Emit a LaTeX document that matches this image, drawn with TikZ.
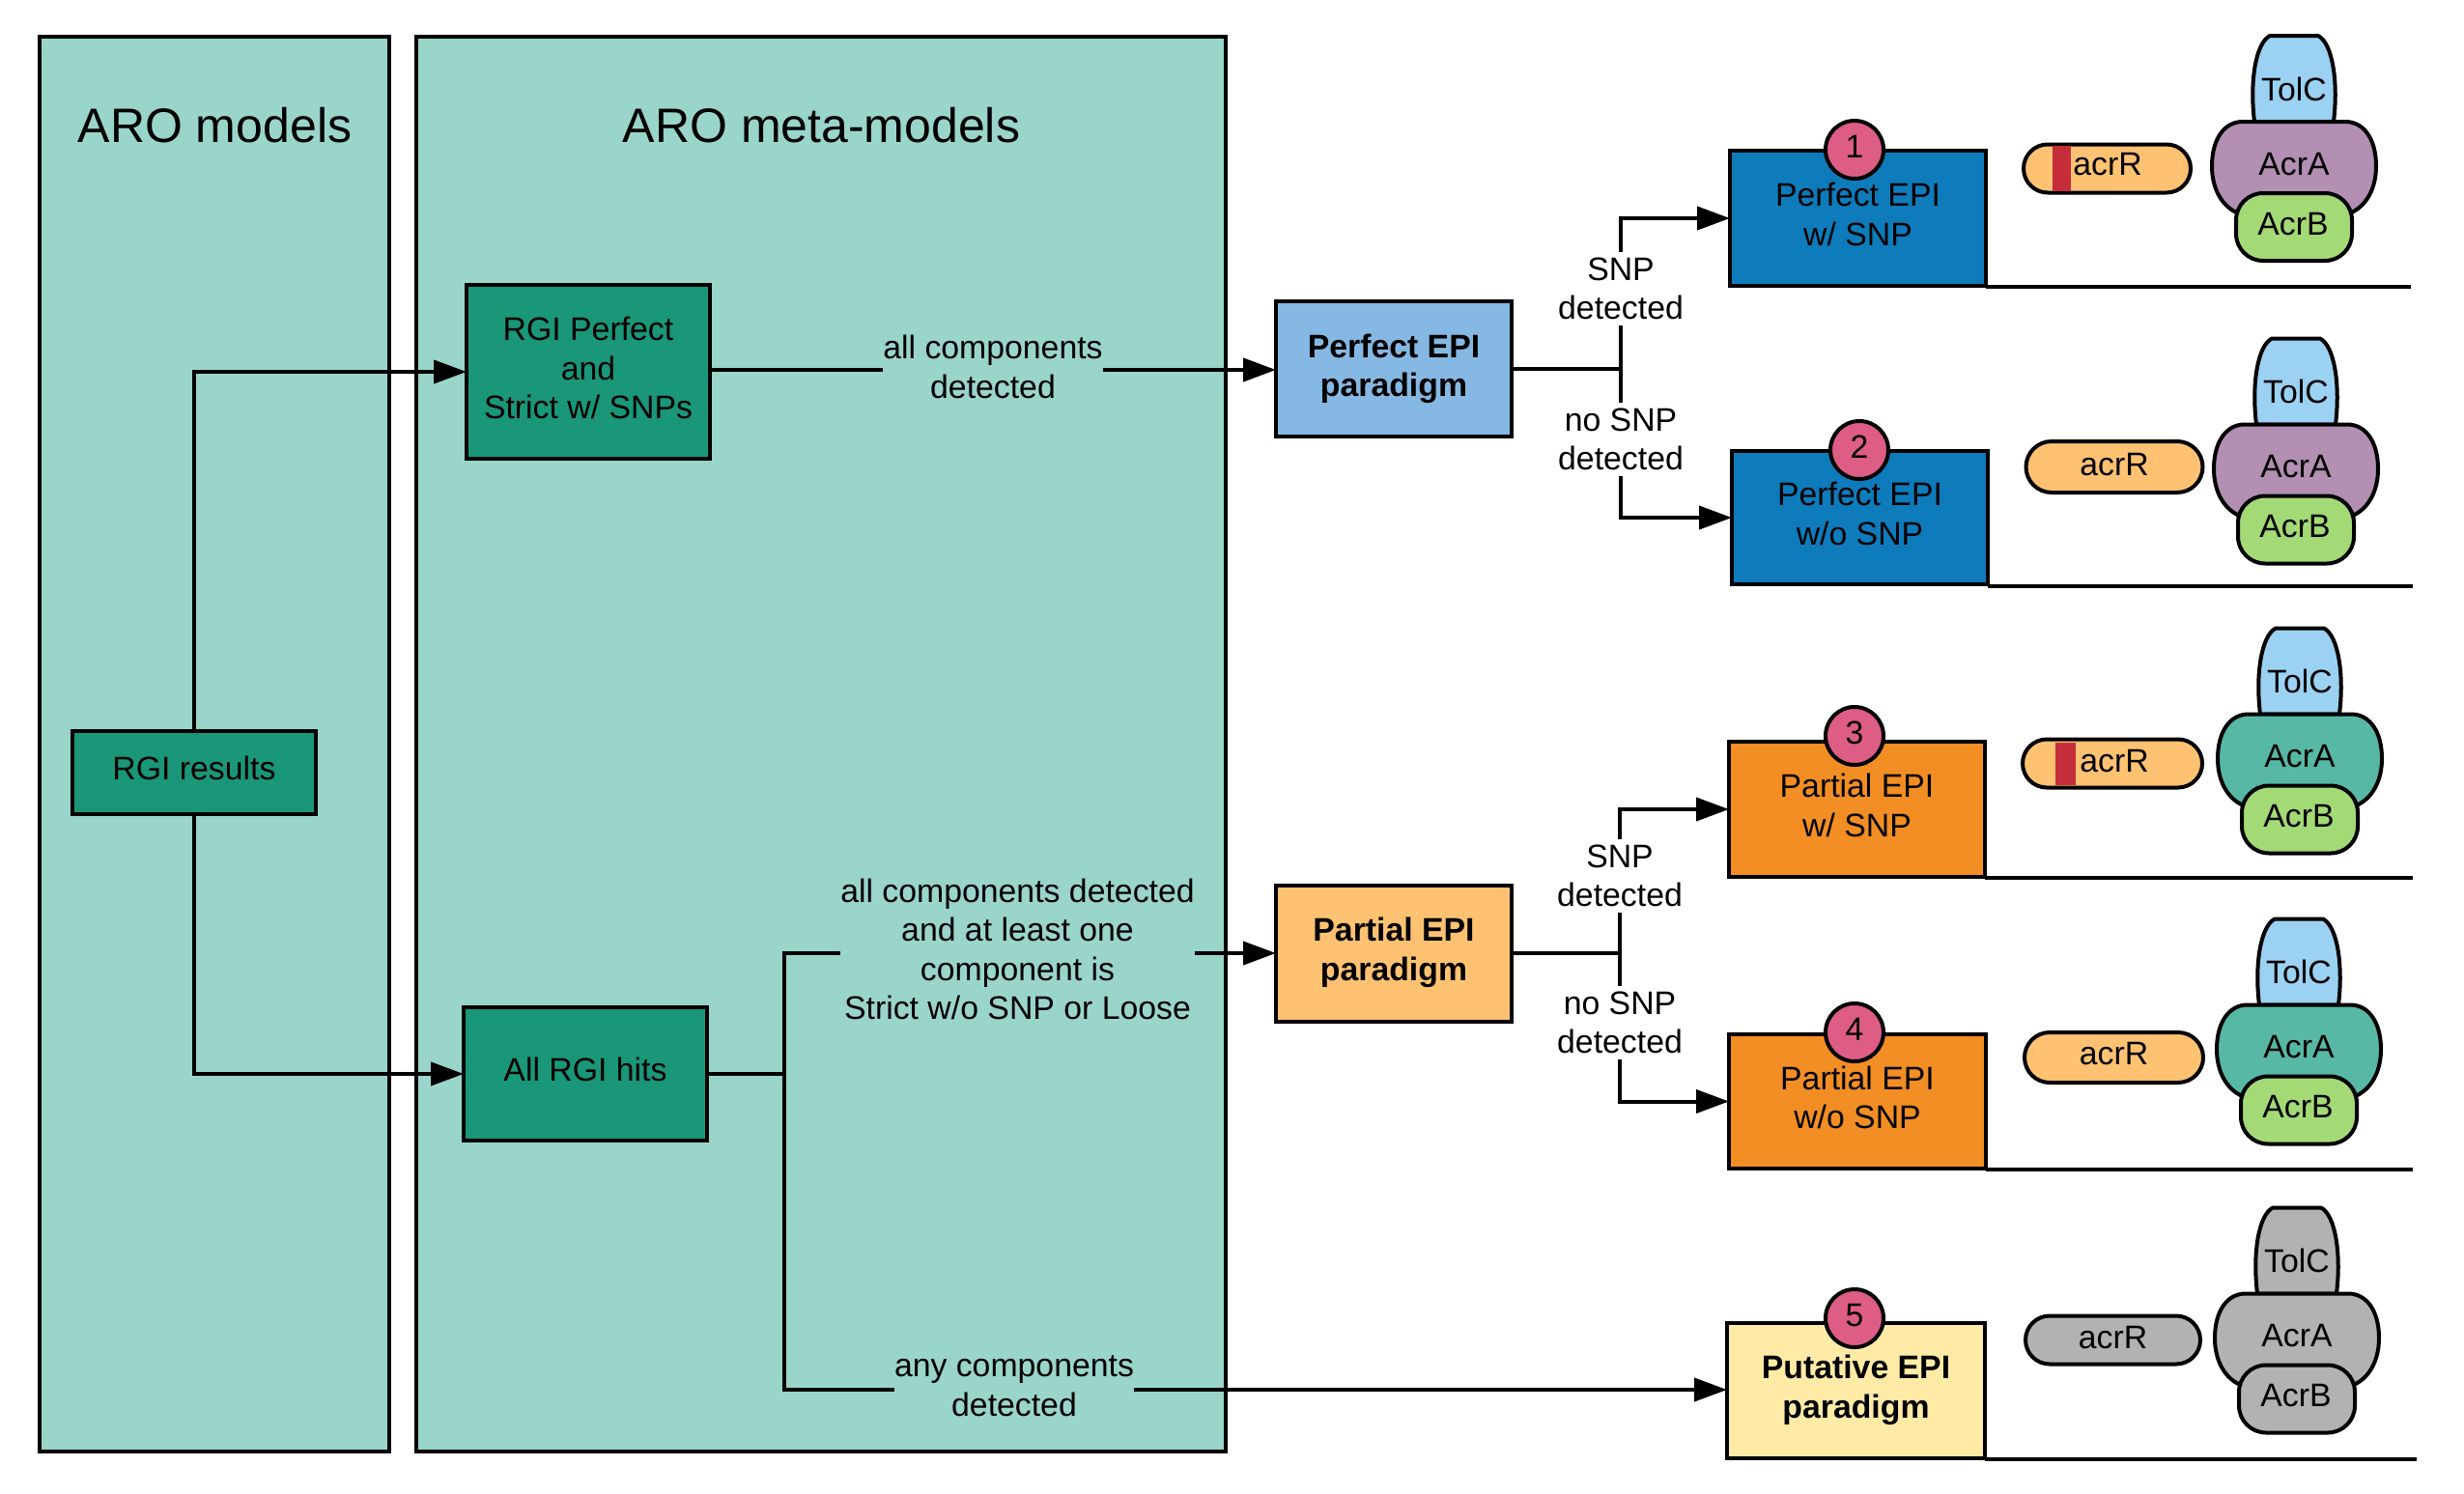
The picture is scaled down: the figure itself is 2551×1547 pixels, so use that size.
\documentclass[tikz,border=0pt]{standalone}
\usepackage{fontspec}
\setmainfont{Liberation Sans}
\usetikzlibrary{arrows.meta,shapes.misc}
\definecolor{panel}{HTML}{9AD5CA}
\definecolor{dgreen}{HTML}{1A9678}
\definecolor{sblue}{HTML}{0E7BBB}
\definecolor{lblue}{HTML}{85B9E3}
\definecolor{lorange}{HTML}{FFC272}
\definecolor{sorange}{HTML}{F28E24}
\definecolor{lyellow}{HTML}{FFEBA6}
\definecolor{pinkc}{HTML}{DE5D85}
\definecolor{tolcblue}{HTML}{9BD2F3}
\definecolor{acrapurple}{HTML}{B28FB3}
\definecolor{acrateal}{HTML}{57B8A5}
\definecolor{acrbgreen}{HTML}{A3DA76}
\definecolor{greyc}{HTML}{B2B2B2}
\definecolor{redc}{HTML}{C62D3A}
\newcommand{\ctext}[2]{\raisebox{#1}{\begin{tabular}{@{}c@{}}#2\end{tabular}}}
\tikzset{
  every node/.style={font=\fontsize{33.8}{40.5}\selectfont,align=center,inner sep=0pt,outer sep=0pt},
  boldtext/.style={font=\fontsize{33.8}{40.5}\selectfont\bfseries},
  outl/.style={draw=black,line width=4pt,line join=miter},
  panelbox/.style={outl,fill=panel},
  ptitle/.style={font=\fontsize{50}{56}\selectfont},
  lab/.style={inner ysep=6pt},
  conn/.style={draw=black,line width=4pt},
  arr/.style={conn,-{Triangle[length=34pt,width=24pt]}},
  badge/.style={outl,circle,fill=pinkc,minimum size=60pt},
  pill/.style={outl,rounded rectangle,minimum height=50pt},
  pathdraw/.style={draw=black,line width=4pt,line join=round},
  base/.style={draw=black,line width=4pt},
}
\newcommand{\pgroup}[6]{%
  \begin{scope}[xshift=#2pt,yshift=-#3pt]
    \path[pathdraw,fill=#4] (2334,126) .. controls (2329,85) and (2335,45) .. (2350,37) -- (2400,37) .. controls (2415,45) and (2421,85) .. (2416,126) -- cycle;
    \path[pathdraw,fill=#5] (2322,126) -- (2428,126) .. controls (2448,126) and (2460,145) .. (2460,172) .. controls (2460,195) and (2450,215) .. (2430,222) -- (2320,222) .. controls (2300,215) and (2290,195) .. (2290,172) .. controls (2290,145) and (2302,126) .. (2322,126) -- cycle;
    \node[outl,fill=#6,rounded corners=28pt,minimum width=120pt,minimum height=70pt] (#1b) at (2375,235) {};
    \node (#1tt) at (2375,92) {TolC};
    \node (#1at) at (2375,170) {AcrA};
    \node (#1bt) at (2374,232) {AcrB};
  \end{scope}}
\newcommand{\bline}[4]{\coordinate (#1e) at (#3,#2); \draw[base] (#4.south east |- #1e) -- (#1e);}
\begin{document}
\begin{tikzpicture}[x=1pt,y=-1pt]
\useasboundingbox (0,0) rectangle (2551,1547);
% panels
\node[panelbox,minimum width=362pt,minimum height=1465pt] (p1) at (222,770.5) {};
\node[panelbox,minimum width=838pt,minimum height=1465pt] (p2) at (850,770.5) {};
\node[ptitle] (t1) at (222.5,130) {ARO models};
\node[ptitle] (t2) at (850.5,130) {ARO meta-models};
% green boxes
\node[outl,fill=dgreen,minimum width=252pt,minimum height=180pt] (rp) at (609,385) {\ctext{4pt}{RGI Perfect\\and\\Strict w/ SNPs}};
\node[outl,fill=dgreen,minimum width=252pt,minimum height=86pt] (rr) at (201,800) {\raisebox{9pt}{RGI results}};
\node[outl,fill=dgreen,minimum width=252pt,minimum height=138pt] (ah) at (606,1112) {\raisebox{9pt}{All RGI hits}};
% paradigms
\node[outl,fill=lblue,minimum width=244pt,minimum height=140pt,boldtext] (pp) at (1443,382) {Perfect EPI\\paradigm};
\node[outl,fill=lorange,minimum width=244pt,minimum height=141pt,boldtext] (qp) at (1443,987) {\ctext{3pt}{Partial EPI\\paradigm}};
% outcome boxes
\node[outl,fill=sblue,minimum width=265pt,minimum height=140pt] (b1) at (1923.5,226) {\ctext{4pt}{Perfect EPI\\w/ SNP}};
\node[outl,fill=sblue,minimum width=265pt,minimum height=138pt] (b2) at (1925.5,536) {\ctext{4pt}{Perfect EPI\\w/o SNP}};
\node[outl,fill=sorange,minimum width=265pt,minimum height=140pt] (b3) at (1922.5,838) {\ctext{4pt}{Partial EPI\\w/ SNP}};
\node[outl,fill=sorange,minimum width=266pt,minimum height=139pt] (b4) at (1923,1140.5) {\ctext{6pt}{Partial EPI\\w/o SNP}};
\node[outl,fill=lyellow,minimum width=267pt,minimum height=140pt,boldtext] (b5) at (1921.5,1440) {\ctext{6pt}{Putative EPI\\paradigm}};
% badges
\node[badge] (c1) at (1920,155) {\raisebox{6pt}{1}};
\node[badge] (c2) at (1925,466) {\raisebox{6pt}{2}};
\node[badge] (c3) at (1920,762) {\raisebox{6pt}{3}};
\node[badge] (c4) at (1920,1069) {\raisebox{6pt}{4}};
\node[badge] (c5) at (1920,1365) {\raisebox{6pt}{5}};
% connector labels
\node[lab] (l0) at (1028,380) {all components\\detected};
\node[lab] (l1) at (1678,299) {SNP\\detected};
\node[lab] (l2) at (1678,455) {no SNP\\detected};
\node[lab] (l3) at (1677,907) {SNP\\detected};
\node[lab] (l4) at (1677,1059) {no SNP\\detected};
\node[lab] (l5) at (1053.5,983) {all components detected\\and at least one\\component is\\Strict w/o SNP or Loose};
\node[lab] (l6) at (1050,1435) {any components\\detected};
\coordinate (j0) at (1028,383);
\coordinate (j1) at (1678,382);
\coordinate (j2) at (1677,987);
\coordinate (j3) at (812,1112);
\coordinate (j4) at (812,987);
\coordinate (j5) at (812,1439);
% connectors
\draw[arr] (rr.north) |- (rp.west);
\draw[arr] (rr.south) |- (ah.west);
\draw[conn] (rp.east |- j0) -- (l0.west |- j0);
\draw[arr] (l0.east |- j0) -- (pp.west |- j0);
\draw[conn] (pp.east) -- (j1);
\draw[conn] (l1.south |- j1) -- (l1.south);
\draw[arr] (l1.north) |- (b1.west);
\draw[conn] (l2.north |- j1) -- (l2.north);
\draw[arr] (l2.south) |- (b2.west);
\draw[conn] (qp.east) -- (j2);
\draw[conn] (j2) -- (l3.south);
\draw[arr] (l3.north) |- (b3.west);
\draw[conn] (j2) -- (l4.north);
\draw[arr] (l4.south) |- (b4.west);
\draw[conn] (ah.east) -- (j3);
\draw[conn,line cap=rect] (j4) -- (j5);
\draw[conn] (j4) -- (l5.west |- j4);
\draw[arr] (l5.east |- j4) -- (qp.west |- j4);
\draw[conn] (j5) -- (l6.west |- j5);
\draw[arr] (l6.east |- j5) -- (b5.west |- j5);
% acrR pills
\node[pill,fill=lorange,minimum width=173pt] (r1) at (2181.5,174.5) {};
\node[fill=redc,minimum width=19pt,minimum height=47pt] (m1) at (2134.5,174.5) {};
\node (r1t) at (2182,170) {acrR};
\node[pill,fill=lorange,minimum width=183pt,minimum height=53pt] (r2) at (2189,483.5) {\raisebox{5pt}{acrR}};
\node[pill,fill=lorange,minimum width=186pt] (r3) at (2187,790.5) {};
\node[fill=redc,minimum width=21pt,minimum height=44pt] (m3) at (2138.5,790.5) {};
\node (r3t) at (2189,788) {acrR};
\node[pill,fill=lorange,minimum width=185pt,minimum height=52pt] (r4) at (2188.5,1095) {\raisebox{9pt}{acrR}};
\node[pill,fill=greyc,minimum width=181pt] (r5) at (2187.5,1387.5) {\raisebox{5pt}{acrR}};
% protein complexes
\pgroup{g1}{0}{0}{tolcblue}{acrapurple}{acrbgreen}
\pgroup{g2}{2}{313.5}{tolcblue}{acrapurple}{acrbgreen}
\pgroup{g3}{6}{613.5}{tolcblue}{acrateal}{acrbgreen}
\pgroup{g4}{5}{914.5}{tolcblue}{acrateal}{acrbgreen}
\pgroup{g5}{3}{1213.5}{greyc}{greyc}{greyc}
% baselines
\bline{e1}{297}{2496}{b1}
\bline{e2}{607}{2498}{b2}
\bline{e3}{909}{2498}{b3}
\bline{e4}{1211}{2498}{b4}
\bline{e5}{1511}{2502}{b5}
\end{tikzpicture}
\end{document}
